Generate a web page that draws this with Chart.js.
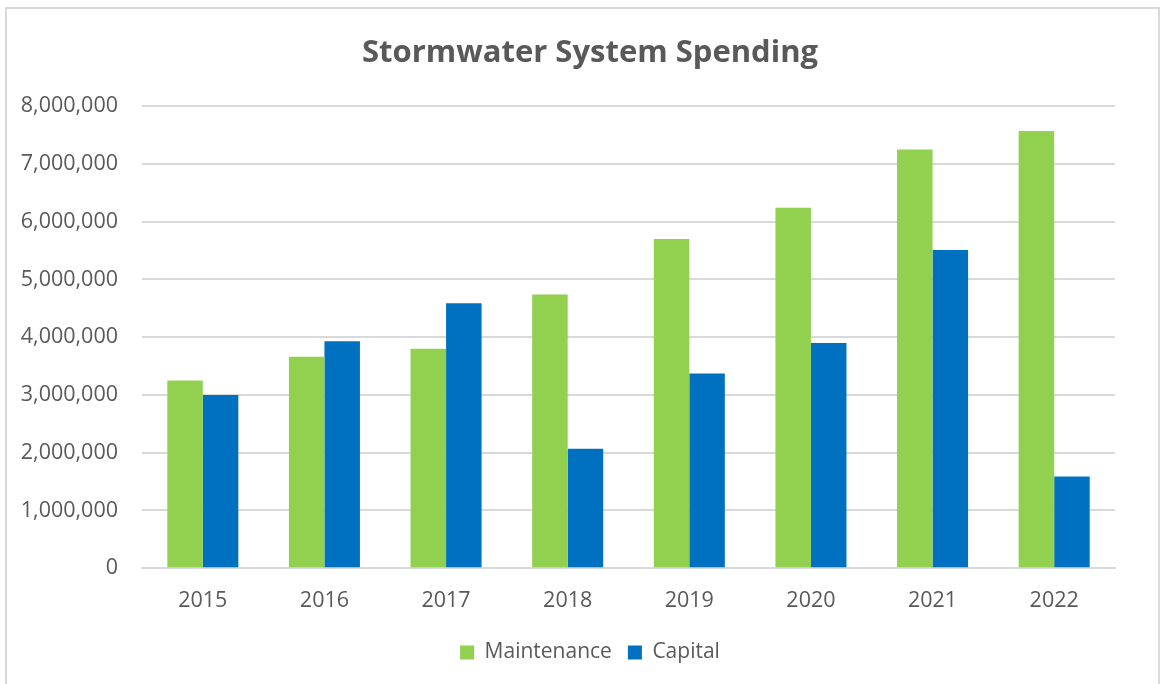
<!DOCTYPE html>
<html>
<head>
<meta charset="utf-8">
<title>Stormwater System Spending</title>
<script src="https://cdn.jsdelivr.net/npm/chart.js@4/dist/chart.umd.min.js"></script>
<style>
  html, body { margin: 0; padding: 0; background: #fff; overflow: hidden; }
  #frame {
    position: absolute; left: 5px; top: 7px;
    width: 1155px; height: 700px;
    border: 2px solid #d9d9d9; box-sizing: border-box;
  }
  #wrap { position: absolute; left: -8px; top: 0; width: 1151px; height: 680px; }
</style>
</head>
<body>
<div id="frame"><div id="wrap"><canvas id="spending-chart"></canvas></div></div>
<script>
var years = ['2015', '2016', '2017', '2018', '2019', '2020', '2021', '2022'];
var maintenance = [3250000, 3660000, 3800000, 4740000, 5700000, 6240000, 7250000, 7570000];
var capital = [3000000, 3930000, 4590000, 2070000, 3370000, 3900000, 5510000, 1590000];
var yTicks = [0, 1000000, 2000000, 3000000, 4000000, 5000000, 6000000, 7000000, 8000000];

(function() {
    'use strict';
    var ctx = document.getElementById('spending-chart').getContext('2d');
    var textColor = '#595959';
    var font = "'Open Sans', sans-serif";

    // y labels spill left of the (narrowed) axis box, so widen its clip area
    var wideLabels = {
        id: 'wideLabels',
        afterLayout: function(chart) {
            chart.scales.y.left = 0;
        }
    };

    new Chart(ctx, {
        type: 'bar',
        data: {
            labels: years,
            datasets: [{
                label: 'Maintenance',
                data: maintenance,
                backgroundColor: '#92d050',
                borderWidth: 0
            }, {
                label: 'Capital',
                data: capital,
                backgroundColor: '#0070c0',
                borderWidth: 0
            }]
        },
        options: {
            responsive: true,
            maintainAspectRatio: false,
            animation: false,
            // title and legend are centred on this box, like the Excel original
            layout: { padding: { left: 66, right: 35, top: 26, bottom: 16 } },
            datasets: {
                bar: { categoryPercentage: 0.584, barPercentage: 1.0 }
            },
            plugins: {
                title: {
                    display: true,
                    text: 'Stormwater System Spending',
                    color: textColor,
                    font: { family: font, size: 31, weight: 'bold' },
                    padding: { top: 0, bottom: 34 }
                },
                legend: {
                    position: 'bottom',
                    labels: {
                        color: textColor,
                        font: { family: font, size: 21 },
                        boxWidth: 14,
                        boxHeight: 14,
                        padding: 16
                    }
                },
                tooltip: { enabled: false }
            },
            scales: {
                x: {
                    grid: { display: false },
                    border: { display: true, color: '#d9d9d9', width: 2 },
                    ticks: { color: textColor, font: { family: font, size: 21.5 }, padding: 12 }
                },
                y: {
                    min: 0,
                    max: 8000000,
                    afterBuildTicks: function(axis) {
                        axis.ticks = yTicks.map(function(v) { return { value: v }; });
                    },
                    afterFit: function(axis) {
                        axis.width = 77;
                    },
                    grid: { color: '#d9d9d9', lineWidth: 2, drawTicks: false },
                    border: { display: false },
                    ticks: {
                        color: textColor,
                        font: { family: font, size: 21.5 },
                        padding: 24,
                        callback: function(v) { return v.toLocaleString('en-US'); }
                    }
                }
            }
        },
        plugins: [wideLabels]
    });
})();
</script>
</body>
</html>
